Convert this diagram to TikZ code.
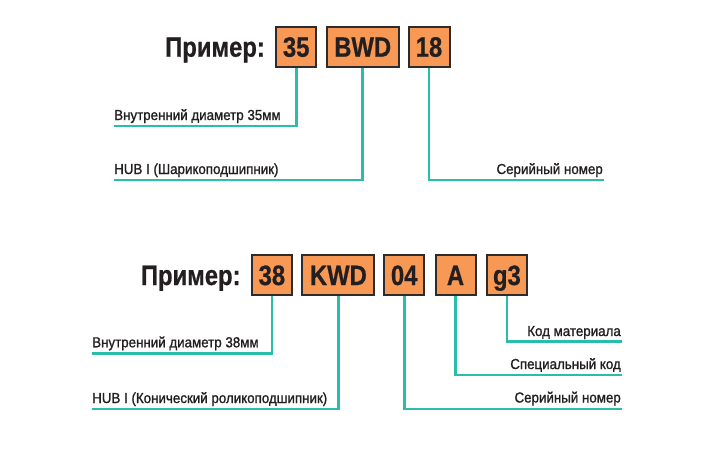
\documentclass[tikz,border=0pt]{standalone}
\usepackage{fontspec}
\setmainfont{Liberation Sans}
\newfontfamily\bigf[FakeStretch=0.85,FakeBold=0.6]{Liberation Sans}
\newfontfamily\labf[FakeStretch=0.92,FakeBold=1.2]{Liberation Sans}
\definecolor{boxfill}{RGB}{247,152,84}
\definecolor{boxline}{RGB}{45,43,43}
\definecolor{teal}{RGB}{40,190,170}
\definecolor{txt}{RGB}{35,31,32}
\tikzset{
  codebox/.style={draw=boxline, line width=2pt, fill=boxfill, minimum height=40pt,
    inner sep=0pt},
  boxtext/.style={inner sep=0pt, text=txt, anchor=base, font=\bigf\bfseries\fontsize{28}{32}\selectfont},
  title/.style={inner sep=0pt, text=txt, font=\bigf\bfseries\fontsize{28}{32}\selectfont},
  lab/.style={inner sep=0pt, text=txt, font=\labf\fontsize{14.5}{16}\selectfont},
  lead/.style={draw=teal, line width=2.6pt}
}
\begin{document}
\begin{tikzpicture}[x=1pt,y=-1pt]
\useasboundingbox (0,0) rectangle (725,450);
% ---------- top example ----------
\node[title, anchor=base east] (t1) at (265,56.7) {Пример:};
\node[codebox, minimum width=40pt] (b35) at (296.2,46.5) {};
\node[boxtext] (l35) at (296.2,56.7) {35};
\node[codebox, minimum width=72pt] (bBWD) at (362.7,46.5) {};
\node[boxtext] (lBWD) at (362.7,56.7) {BWD};
\node[codebox, minimum width=41pt] (b18) at (429,46.5) {};
\node[boxtext] (l18) at (429,56.7) {18};

\coordinate (e35) at (114,126);
\coordinate (eBWD) at (114,180);
\coordinate (e18) at (604,180);
\draw[lead] (b35.south) |- (e35);
\draw[lead] (bBWD.south) |- (eBWD);
\draw[lead] (b18.south) |- (e18);
\node[lab, anchor=base west] (d35) at (114,120) {Внутренний диаметр 35мм};
\node[lab, anchor=base west] (dBWD) at (114,174) {HUB I (Шарикоподшипник)};
\node[lab, anchor=base east] (d18) at (603,174) {Серийный номер};

% ---------- bottom example ----------
\node[title, anchor=base east] (t2) at (240.7,285) {Пример:};
\node[codebox, minimum width=40pt] (b38) at (271.9,274.5) {};
\node[boxtext] (l38) at (271.9,285) {38};
\node[codebox, minimum width=72pt] (bKWD) at (338.4,274.5) {};
\node[boxtext] (lKWD) at (338.4,285) {KWD};
\node[codebox, minimum width=40pt] (b04) at (404.2,274.5) {};
\node[boxtext] (l04) at (404.2,285) {04};
\node[codebox, minimum width=40pt] (bA) at (455.5,274.5) {};
\node[boxtext] (lA) at (455.5,285) {A};
\node[codebox, minimum width=40pt] (bg3) at (506.9,274.5) {};
\node[boxtext] (lg3) at (506.9,285) {g3};

\coordinate (e38) at (91.7,353.3);
\coordinate (eKWD) at (91.7,409);
\coordinate (e04) at (621.7,409);
\coordinate (eA) at (621.7,375);
\coordinate (eg3) at (621.7,341.7);
\draw[lead] (b38.south) |- (e38);
\draw[lead] (bKWD.south) |- (eKWD);
\draw[lead] (b04.south) |- (e04);
\draw[lead] (bA.south) |- (eA);
\draw[lead] (bg3.south) |- (eg3);
\node[lab, anchor=base west] (d38) at (92,347.3) {Внутренний диаметр 38мм};
\node[lab, anchor=base west] (dKWD) at (92,403) {HUB I (Конический роликоподшипник)};
\node[lab, anchor=base east] (d04) at (621,402.5) {Серийный номер};
\node[lab, anchor=base east] (dA) at (621,369) {Специальный код};
\node[lab, anchor=base east] (dg3) at (621,336) {Код материала};
\end{tikzpicture}
\end{document}
